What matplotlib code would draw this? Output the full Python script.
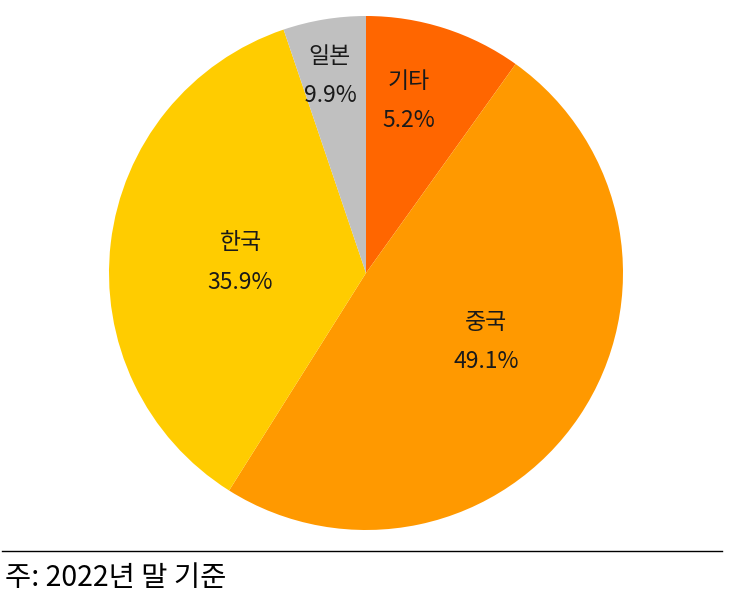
import matplotlib.pyplot as plt
import numpy as np

plt.rcParams['font.family'] = ['Noto Sans CJK KR', 'DejaVu Sans']

# slice order clockwise from 12 o'clock, as drawn in the source
names = ["기타", "중국", "한국", "일본"]
slice_values = [9.9, 49.1, 35.9, 5.2]
# the source prints these percentages on the slices (기타/일본 swapped vs. size)
label_pcts = ["5.2%", "49.1%", "35.9%", "9.9%"]
colors = ["#FF6600", "#FF9900", "#FFCC00", "#C0C0C0"]

fig = plt.figure(figsize=(7.29, 6.01), dpi=100)
R = 257
cx, cy = 366, 273
ax = fig.add_axes([(cx - R) / 729, (601 - cy - R) / 601, 2 * R / 729, 2 * R / 601])

wedges, _ = ax.pie(slice_values, colors=colors, startangle=90, counterclock=False,
                   wedgeprops=dict(linewidth=0))
ax.set_xlim(-1, 1)
ax.set_ylim(-1, 1)
ax.set_aspect('equal')
ax.axis('off')

# label placement: radius fraction and angular nudge per slice
label_r = [0.69, 0.54, 0.49, 0.78]
label_shift = [4, 4, 2, 1]
for w, name, pct, r, sh in zip(wedges, names, label_pcts, label_r, label_shift):
    ang = np.deg2rad((w.theta1 + w.theta2) / 2 + sh)
    ax.text(r * np.cos(ang), r * np.sin(ang), f"{name}\n{pct}", ha='center', va='center',
            fontsize=16.5, color='#1a1a1a', linespacing=1.9)

# footer rule and note
fig.add_artist(plt.Line2D([2 / 729, 722 / 729], [1 - 551 / 601] * 2, color='black', linewidth=1))
fig.text(5 / 729, 1 - 578 / 601, "주: 2022년 말 기준", ha='left', va='center', fontsize=20.5, color='black')

fig.savefig("out.png", dpi=100)
